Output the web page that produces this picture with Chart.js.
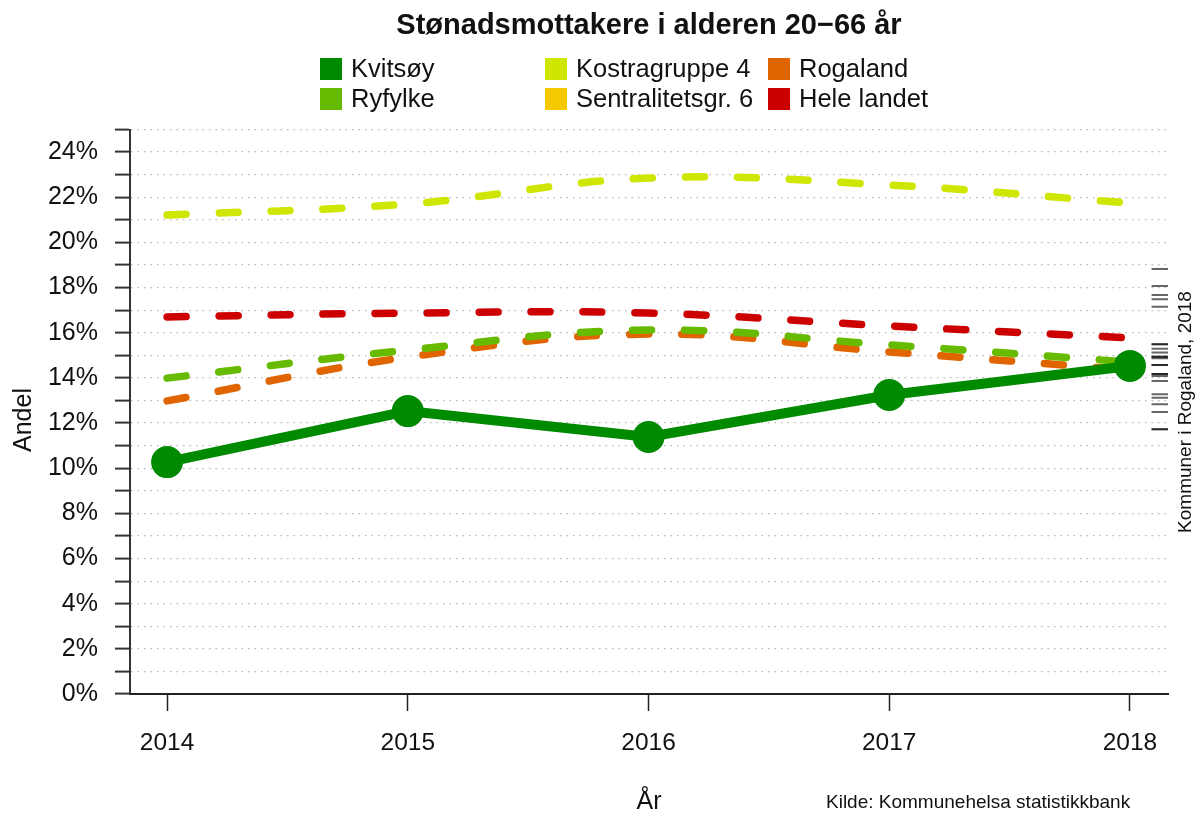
<!DOCTYPE html>
<html>
<head>
<meta charset="utf-8">
<script src="https://cdn.jsdelivr.net/npm/chart.js@4"></script>
<style>
  html, body { margin: 0; padding: 0; background: #fff; }
  #wrap { width: 1195px; height: 814px; }
</style>
</head>
<body>
<div id="wrap"><canvas id="chart" width="1195" height="814"></canvas></div>
<script>
// Data
const years = [2014, 2015, 2016, 2017, 2018];
const kvitsoy = [10.27, 12.53, 11.38, 13.24, 14.53];
const ryfylke = [13.99, 15.23, 16.12, 15.46, 14.70];
const kostragruppe4 = [21.21, 21.70, 22.85, 22.54, 21.74];
const sentralitet6 = [];
const rogaland = [12.98, 14.92, 15.94, 15.15, 14.35];
const heleLandet = [16.70, 16.87, 16.87, 16.30, 15.77];
// values for each municipality in Rogaland, 2018 (rug marks on the right)
const kommuner2018 = [18.82, 18.07, 17.67, 17.48, 17.15, 15.49, 15.49, 15.29, 15.12, 14.94, 14.94,
    14.87, 14.57, 14.57, 14.17, 14.17, 14.08, 13.86, 13.27, 13.12, 12.83, 12.49, 11.72, 11.72];
const yTicks = [0, 2, 4, 6, 8, 10, 12, 14, 16, 18, 20, 22, 24];

const legendItems = [
    { label: 'Kvitsøy', color: '#008a00' },
    { label: 'Ryfylke', color: '#66bb00' },
    { label: 'Kostragruppe 4', color: '#cfe600' },
    { label: 'Sentralitetsgr. 6', color: '#f5c800' },
    { label: 'Rogaland', color: '#e06400' },
    { label: 'Hele landet', color: '#cc0000' }
];

const FONT = "'Liberation Sans', Arial, sans-serif";
const rugX = 2018.125;

function toPoints(values) {
    return values.map((v, i) => ({ x: years[i], y: v }));
}

function dashed(label, values, color, order) {
    return {
        label: label,
        data: toPoints(values),
        borderColor: color,
        backgroundColor: color,
        borderWidth: 7.5,
        borderDash: [19, 33],
        borderCapStyle: 'round',
        tension: 0.4,
        pointRadius: 0,
        showLine: true,
        order: order
    };
}

// Titles, legend and side texts
const decorations = {
    id: 'decorations',
    afterDraw(chart) {
        const ctx = chart.ctx;
        ctx.save();
        ctx.fillStyle = '#111';
        ctx.textBaseline = 'middle';

        ctx.font = 'bold 29px ' + FONT;
        ctx.textAlign = 'center';
        ctx.fillText('Stønadsmottakere i alderen 20\u221266 år', 649, 26);

        // legend, three columns of two
        const colX = [320, 545, 768];
        const rowY = [69, 99];
        ctx.font = '25.5px ' + FONT;
        ctx.textAlign = 'left';
        legendItems.forEach((item, i) => {
            const x = colX[Math.floor(i / 2)];
            const y = rowY[i % 2];
            ctx.fillStyle = item.color;
            ctx.fillRect(x, y - 11, 22, 22);
            ctx.fillStyle = '#111';
            ctx.fillText(item.label, x + 31, y + 1);
        });

        ctx.textAlign = 'center';
        ctx.font = '25px ' + FONT;
        ctx.fillText('År', 649, 802);

        ctx.save();
        ctx.translate(24, 420);
        ctx.rotate(-Math.PI / 2);
        ctx.fillText('Andel', 0, 0);
        ctx.restore();

        ctx.save();
        ctx.font = '19px ' + FONT;
        ctx.translate(1186, 412);
        ctx.rotate(-Math.PI / 2);
        ctx.fillText('Kommuner i Rogaland, 2018', 0, 0);
        ctx.restore();

        ctx.font = '19px ' + FONT;
        ctx.textAlign = 'left';
        ctx.fillText('Kilde: Kommunehelsa statistikkbank', 826, 803);
        ctx.restore();
    }
};

new Chart(document.getElementById('chart').getContext('2d'), {
    type: 'scatter',
    data: {
        datasets: [
            {
                label: 'Kvitsøy',
                data: toPoints(kvitsoy),
                borderColor: '#008a00',
                backgroundColor: '#008a00',
                borderWidth: 10,
                pointRadius: 11,
                pointHoverRadius: 11,
                showLine: true,
                tension: 0,
                order: 0
            },
            dashed('Ryfylke', ryfylke, '#66bb00', 3),
            dashed('Kostragruppe 4', kostragruppe4, '#cfe600', 5),
            dashed('Sentralitetsgr. 6', sentralitet6, '#f5c800', 6),
            dashed('Rogaland', rogaland, '#e06400', 4),
            dashed('Hele landet', heleLandet, '#cc0000', 2),
            {
                label: 'Kommuner',
                data: kommuner2018.map(v => ({ x: rugX, y: v })),
                pointStyle: 'line',
                pointRadius: 8.5,
                borderColor: 'rgba(0,0,0,0.6)',
                borderWidth: 2,
                showLine: false,
                order: 1
            }
        ]
    },
    options: {
        responsive: false,
        animation: false,
        layout: { padding: { top: 129.5, right: 27, left: 0, bottom: 0 } },
        plugins: {
            legend: { display: false },
            tooltip: { enabled: false }
        },
        scales: {
            x: {
                type: 'linear',
                min: 2013.846,
                max: 2018.158,
                afterFit: s => { s.height = 120; },
                afterBuildTicks: s => { s.ticks = years.map(v => ({ value: v })); },
                ticks: {
                    callback: v => String(v),
                    font: { family: FONT, size: 24.5 },
                    color: '#111',
                    padding: 18,
                    maxRotation: 0,
                    autoSkip: false
                },
                grid: {
                    drawOnChartArea: false,
                    drawTicks: true,
                    tickLength: 17,
                    tickColor: '#222',
                    tickWidth: 1.5
                },
                border: { display: true, color: '#222', width: 2 }
            },
            y: {
                min: 0,
                max: 25,
                afterFit: s => { s.width = 130; },
                ticks: {
                    stepSize: 1,
                    autoSkip: false,
                    callback: v => (yTicks.includes(v) ? v + '%' : ''),
                    font: { family: FONT, size: 25 },
                    color: '#111',
                    padding: 17
                },
                grid: {
                    color: '#b8b8b8',
                    lineWidth: 1.2,
                    drawTicks: true,
                    tickLength: 15,
                    tickColor: '#333',
                    tickWidth: 2,
                    tickBorderDash: []
                },
                border: { display: true, color: '#333', width: 2, dash: [1.5, 5] }
            }
        }
    },
    plugins: [decorations]
});
</script>
</body>
</html>
